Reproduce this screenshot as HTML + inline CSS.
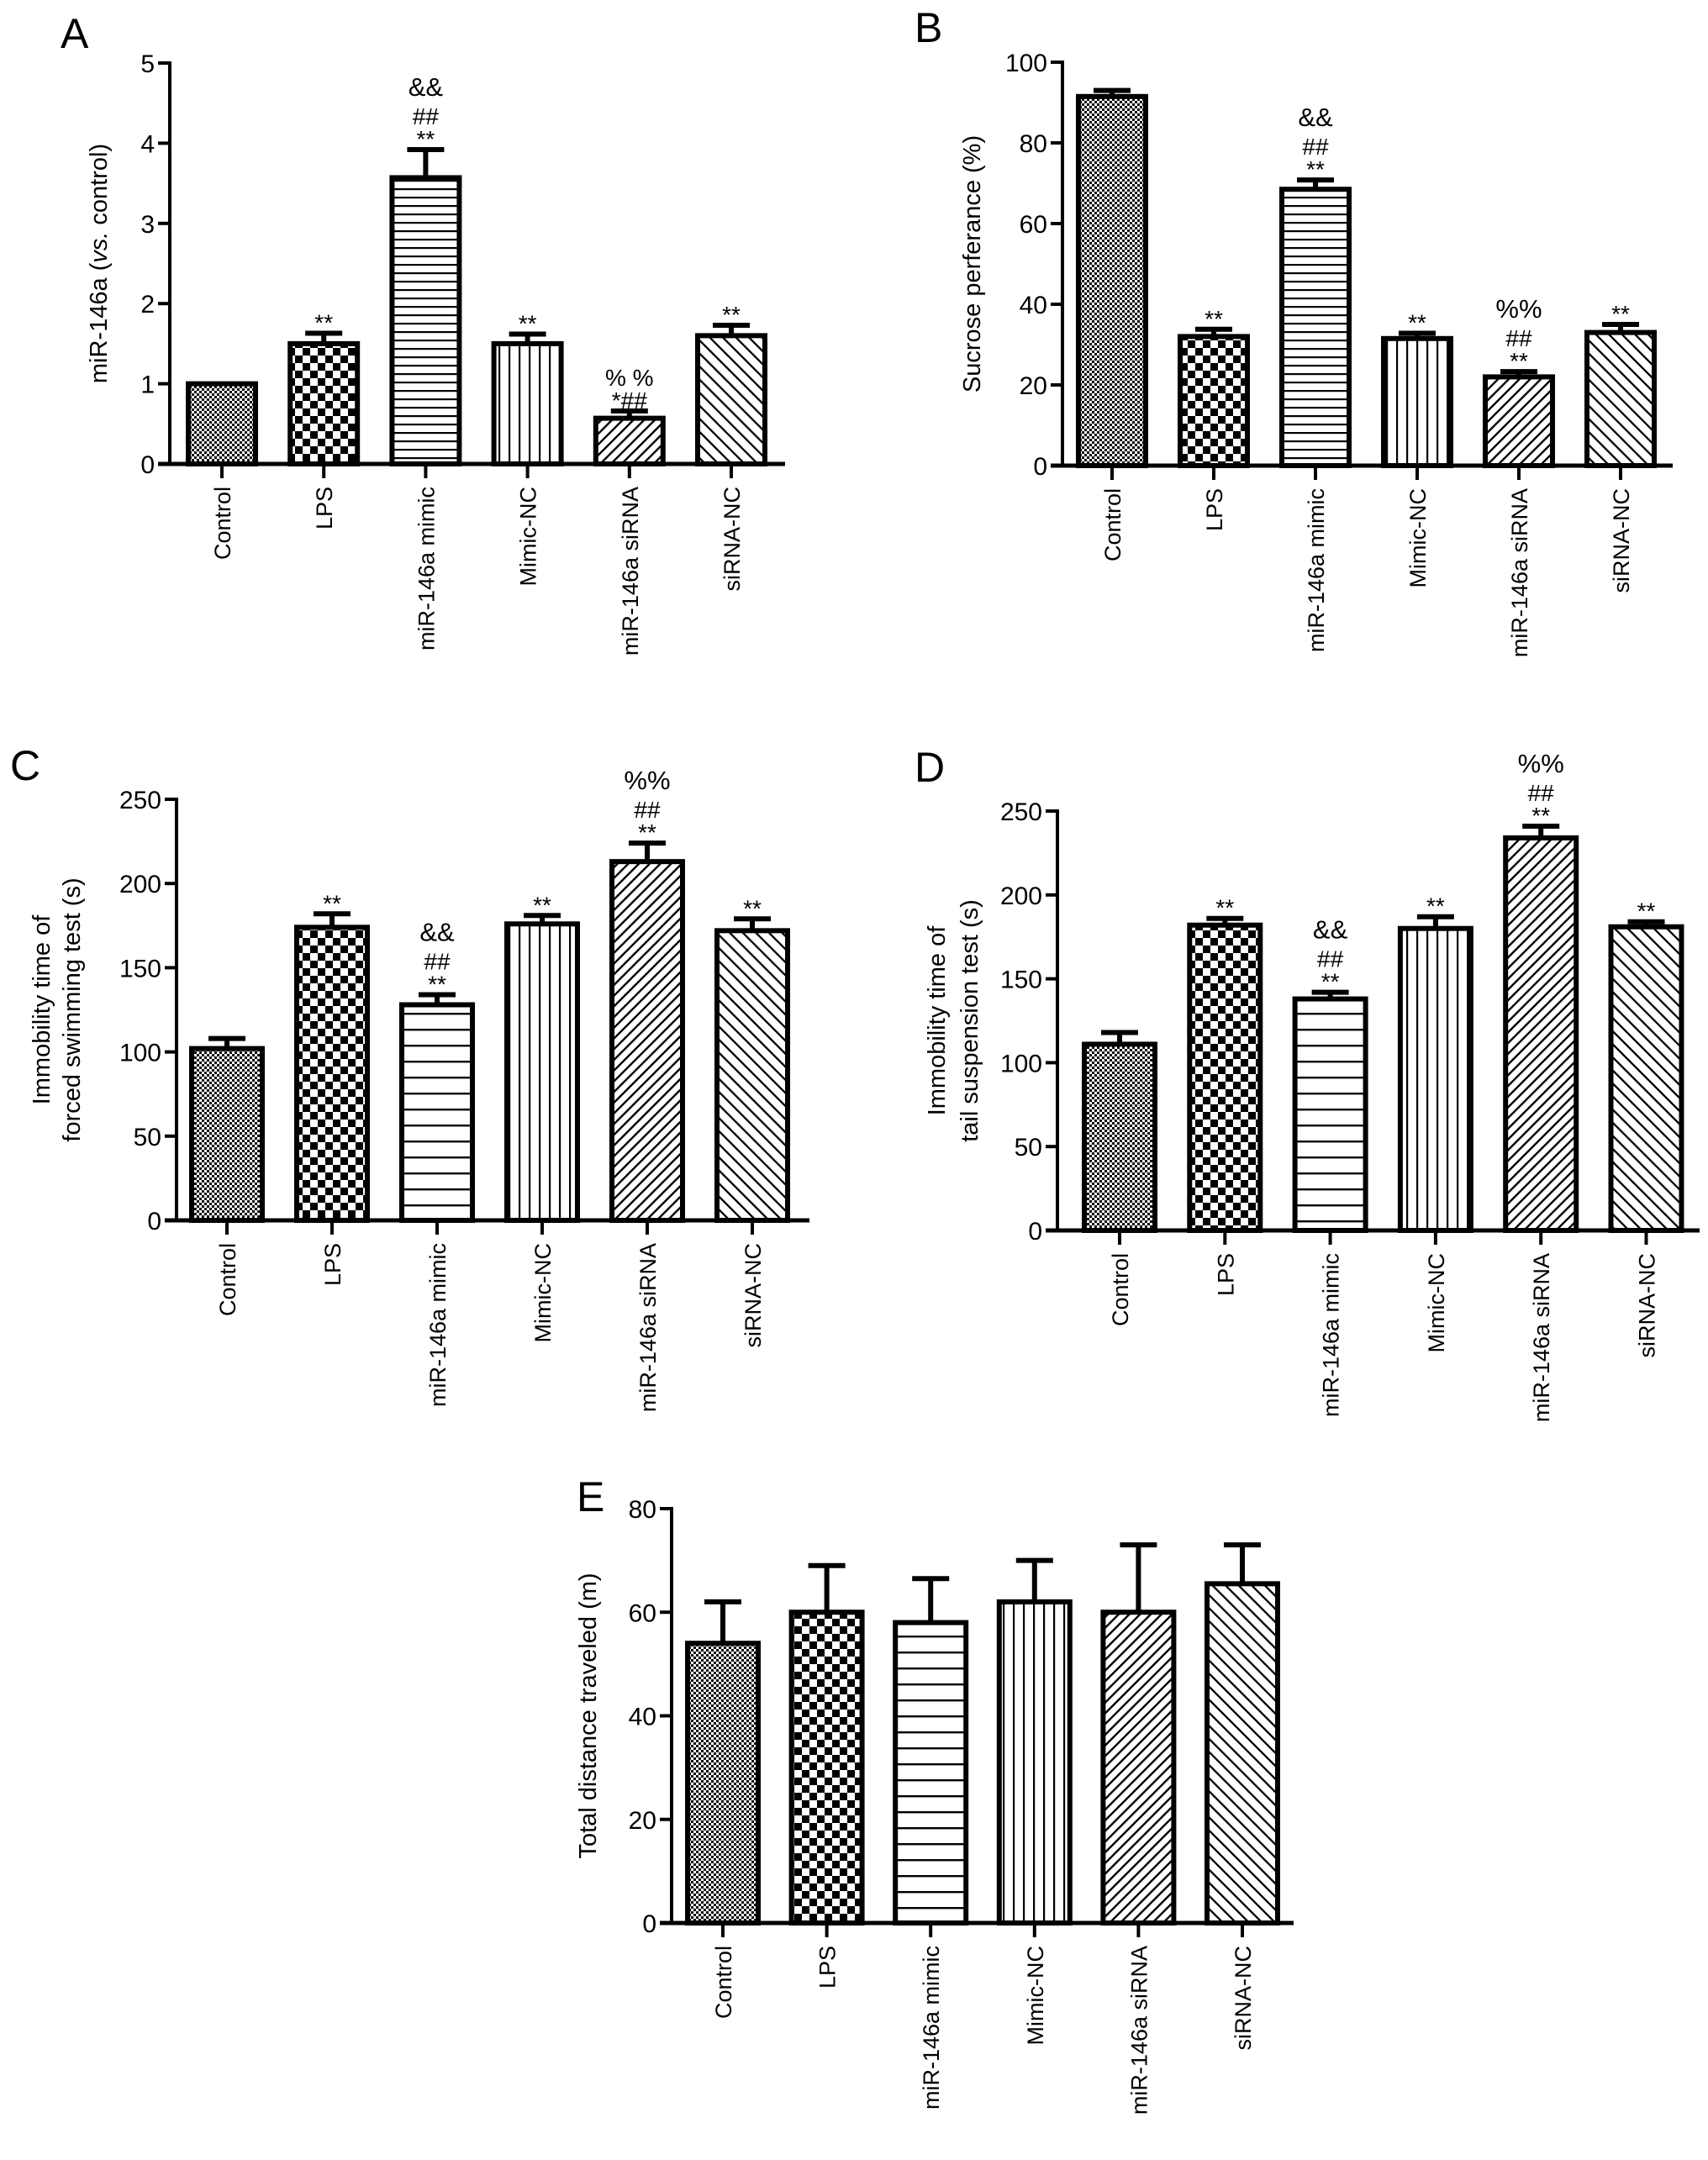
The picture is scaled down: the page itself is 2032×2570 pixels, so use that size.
<!DOCTYPE html>
<html><head><meta charset="utf-8"><style>
html,body{margin:0;padding:0;background:#fff;}
svg{display:block;font-family:"Liberation Sans",Arial,sans-serif;}
</style></head><body>
<svg id="fig" width="2032" height="2570" viewBox="0 0 2032 2570" xmlns="http://www.w3.org/2000/svg">
<defs>
<pattern id="p-dots" width="6" height="6" patternUnits="userSpaceOnUse"><rect width="6" height="6" fill="#fff"/><rect width="3" height="3" fill="#111"/><rect x="3" y="3" width="3" height="3" fill="#111"/></pattern>
<pattern id="p-check" width="18" height="18" patternUnits="userSpaceOnUse"><rect width="18" height="18" fill="#fff"/><rect width="9" height="9" fill="#000"/><rect x="9" y="9" width="9" height="9" fill="#000"/></pattern>
<pattern id="p-h" width="10" height="10" patternUnits="userSpaceOnUse"><rect width="10" height="10" fill="#fff"/><rect y="4" width="10" height="2.2" fill="#000"/></pattern>
<pattern id="p-h2" width="10" height="19" patternUnits="userSpaceOnUse"><rect width="10" height="19" fill="#fff"/><rect y="8" width="10" height="2.4" fill="#000"/></pattern>
<pattern id="p-v" width="12" height="10" patternUnits="userSpaceOnUse"><rect width="12" height="10" fill="#fff"/><rect x="5" width="2.2" height="10" fill="#000"/></pattern>
<pattern id="p-d1" width="9" height="9" patternUnits="userSpaceOnUse" patternTransform="rotate(45)"><rect width="9" height="9" fill="#fff"/><rect x="3" width="2.4" height="9" fill="#000"/></pattern>
<pattern id="p-d2" width="11" height="11" patternUnits="userSpaceOnUse" patternTransform="rotate(-45)"><rect width="11" height="11" fill="#fff"/><rect x="4" width="2.3" height="11" fill="#000"/></pattern>
</defs>
</svg>
<script>
// ---- shared categories ----
const categories = ["Control","LPS","miR-146a mimic","Mimic-NC","miR-146a siRNA","siRNA-NC"];
// ---- Panel A ----
const valuesA = [1.0, 1.5, 3.57, 1.5, 0.57, 1.6];
const errorsA = [0.0, 0.13, 0.35, 0.12, 0.09, 0.13];
const ticksA = [0, 1, 2, 3, 4, 5];
const annoA = [[], ["**"], ["**","##","&&"], ["**"], ["*##","% %"], ["**"]];
// ---- Panel B ----
const valuesB = [91.5, 32, 68.5, 31.5, 22, 33];
const errorsB = [1.5, 1.8, 2.3, 1.3, 1.3, 2.0];
const ticksB = [0, 20, 40, 60, 80, 100];
const annoB = [[], ["**"], ["**","##","&&"], ["**"], ["**","##","%%"], ["**"]];
// ---- Panel C ----
const valuesC = [102, 174, 128, 176, 213, 172];
const errorsC = [6, 8, 6, 5, 11, 7];
const ticksC = [0, 50, 100, 150, 200, 250];
const annoC = [[], ["**"], ["**","##","&&"], ["**"], ["**","##","%%"], ["**"]];
// ---- Panel D ----
const valuesD = [111, 182, 138, 180, 234, 181];
const errorsD = [7, 4, 4, 7, 7, 3];
const ticksD = [0, 50, 100, 150, 200, 250];
const annoD = [[], ["**"], ["**","##","&&"], ["**"], ["**","##","%%"], ["**"]];
// ---- Panel E ----
const valuesE = [54, 60, 58, 62, 60, 65.5];
const errorsE = [8, 9, 8.5, 8, 13, 7.5];
const ticksE = [0, 20, 40, 60, 80];
const annoE = [[], [], [], [], [], []];

const NS = "http://www.w3.org/2000/svg";
const svg = document.getElementById("fig");
const fills = ["url(#p-dots)","url(#p-check)","url(#p-h)","url(#p-v)","url(#p-d1)","url(#p-d2)"];

function mk(tag, attrs, parent){
  const e = document.createElementNS(NS, tag);
  for (const k in attrs) e.setAttribute(k, attrs[k]);
  (parent||svg).appendChild(e);
  return e;
}

function panel(cfg){
  const g = mk("g", {});
  
  
  const ymax = cfg.ticks[cfg.ticks.length-1];
  const yScale = v => cfg.y0 - (v / ymax) * (cfg.y0 - cfg.yTop);
  const xScale = i => cfg.x0c + i * cfg.step;
  const L = mk("text", {x: cfg.lx, y: cfg.ly, "font-size": 50}, g);
  L.textContent = cfg.id;
  
  
  cfg.values.forEach((v, i) => {
    const cx = xScale(i), yt = yScale(v), bw = cfg.bw;
    const ye = yScale(v + cfg.errors[i]);
    if (cfg.errors[i] > 0) {
      const eb = mk("path", {d: `M${cx},${yt} V${ye} M${cx-22},${ye} H${cx+22}`, stroke: "#000", "stroke-width": 6, fill: "none"}, g);
      
      
    }
    const r = mk("rect", {x: cx - bw/2, y: yt, width: bw, height: cfg.y0 - yt, fill: (i===2 && cfg.wideH) ? "url(#p-h2)" : fills[i], stroke: "#000", "stroke-width": 6}, g);
    
    
    const lines = cfg.anno[i];
    const offs = [-3, -30, -64];
    const sizes = [28, 28, 31];
    lines.forEach((s, k) => {
      const t = mk("text", {x: cx, y: ye + offs[k], "font-size": (s.indexOf('*')>=0 && s.length>2) ? 28 : sizes[k], "text-anchor": "middle"}, g);
      t.textContent = s;
      
      
    });
    const tk = mk("line", {x1: cx, x2: cx, y1: cfg.y0, y2: cfg.y0 + 17, stroke: "#000", "stroke-width": 4}, g);
    
    
    const lab = mk("text", {transform: `translate(${cx + 10},${cfg.y0 + 27}) rotate(-90)`, "font-size": 27, "text-anchor": "end"}, g);
    lab.textContent = categories[i];
    
    
  });
  const ya = mk("line", {x1: cfg.x0, x2: cfg.x0, y1: cfg.yTop - 2, y2: cfg.y0 + 2, stroke: "#000", "stroke-width": 4}, g);
  
  
  const xa = mk("line", {x1: cfg.x0 - 14, x2: cfg.xEnd, y1: cfg.y0, y2: cfg.y0, stroke: "#000", "stroke-width": 5}, g);
  
  
  cfg.ticks.forEach(t => {
    const y = yScale(t);
    const tl = mk("line", {x1: cfg.x0 - 14, x2: cfg.x0, y1: y, y2: y, stroke: "#000", "stroke-width": 4}, g);
    
    
    const tx = mk("text", {x: cfg.x0 - 18, y: y + 11, "font-size": 30, "text-anchor": "end"}, g);
    tx.textContent = t;
    
    
  });
  const yc = (cfg.yTop + cfg.y0) / 2;
  cfg.title.forEach((line, k) => {
    const tt = mk("text", {transform: `translate(${cfg.tx[k] + 10},${yc}) rotate(-90)`, "font-size": 29, "text-anchor": "middle"}, g);
    if (Array.isArray(line)) {
      line.forEach(part => {
        const sp = mk("tspan", part[1] ? {"font-style": "italic"} : {}, tt);
        sp.textContent = part[0];
      });
    } else tt.textContent = line;
    
    
  });
}

panel({id:"A", values: valuesA, errors: errorsA, ticks: ticksA, anno: annoA,
  x0: 202, y0: 552, yTop: 75, x0c: 264, step: 121.2, bw: 80, xEnd: 934, lx: 72, ly: 57,
  title: [[["miR-146a ("],["vs.",1],[" control)"]]], tx: [117]});
panel({id:"B", values: valuesB, errors: errorsB, ticks: ticksB, anno: annoB,
  x0: 1264, y0: 554, yTop: 74, x0c: 1323, step: 121, bw: 80, xEnd: 1990, lx: 1088, ly: 50,
  title: ["Sucrose perferance (%)"], tx: [1156]});
panel({id:"C", values: valuesC, errors: errorsC, ticks: ticksC, anno: annoC, wideH: true,
  x0: 210, y0: 1452, yTop: 951, x0c: 270, step: 125, bw: 84, xEnd: 963, lx: 12, ly: 928,
  title: ["Immobility time of", "forced swimming test (s)"], tx: [49, 85]});
panel({id:"D", values: valuesD, errors: errorsD, ticks: ticksD, anno: annoD, wideH: true,
  x0: 1258, y0: 1464, yTop: 965, x0c: 1332, step: 125.3, bw: 84, xEnd: 2022, lx: 1088, ly: 930,
  title: ["Immobility time of", "tail suspension test (s)"], tx: [1114, 1153]});
panel({id:"E", values: valuesE, errors: errorsE, ticks: ticksE, anno: annoE, wideH: true,
  x0: 799, y0: 2288, yTop: 1795, x0c: 860, step: 123.6, bw: 84, xEnd: 1539, lx: 686, ly: 1798,
  title: ["Total distance traveled (m)"], tx: [699]});
</script>
</body></html>
